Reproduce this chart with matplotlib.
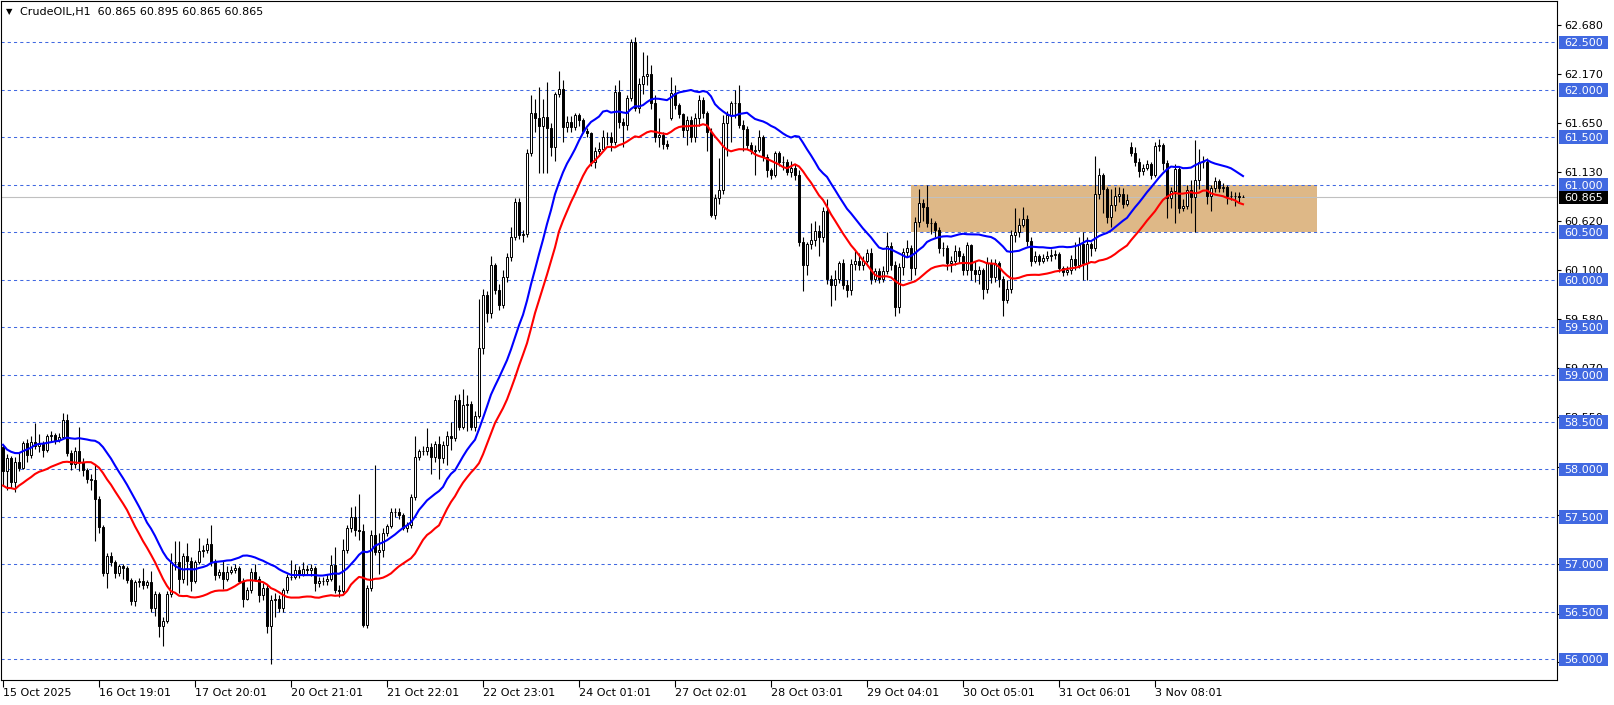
import numpy as np
import pandas as pd
import matplotlib
matplotlib.use("Agg")
import matplotlib.pyplot as plt
from matplotlib.patches import Rectangle
from matplotlib.transforms import blended_transform_factory

# CrudeOIL H1 candles
opens = [
    58.24, 57.98, 58.12, 57.87, 58.08, 58.02, 58.28, 58.15, 58.29, 58.25,
    58.27, 58.20, 58.35, 58.36, 58.31, 58.34, 58.52, 58.17, 58.06, 58.19,
    58.08, 57.99, 57.90, 57.89, 57.69, 57.39, 56.91, 57.09, 57.02, 56.91,
    56.98, 56.96, 56.84, 56.61, 56.81, 56.82, 56.78, 56.81, 56.54, 56.69,
    56.35, 56.40, 56.69, 57.02, 57.02, 56.85, 57.09, 57.04, 56.83, 57.02,
    57.14, 57.15, 57.21, 57.02, 56.89, 56.92, 56.85, 56.92, 56.94, 56.96,
    56.83, 56.64, 56.73, 56.92, 56.85, 56.68, 56.75, 56.35, 56.62, 56.64,
    56.54, 56.73, 56.87, 56.87, 56.94, 56.90, 56.95, 56.94, 56.96, 56.80,
    56.83, 56.82, 56.85, 56.99, 56.73, 56.72, 57.15, 57.38, 57.50, 57.36,
    57.35, 56.36, 56.75, 57.31, 57.13, 57.15, 57.33, 57.40, 57.55, 57.55,
    57.52, 57.38, 57.41, 57.71, 58.13, 58.19, 58.19, 58.24, 58.13, 58.27,
    58.12, 58.26, 58.35, 58.33, 58.73, 58.45, 58.68, 58.69, 58.45, 58.56,
    59.28, 59.84, 59.65, 60.15, 59.89, 59.73, 60.03, 60.24, 60.45, 60.82,
    60.47, 60.48, 61.33, 61.75, 61.70, 61.62, 61.71, 61.60, 61.40, 61.96,
    62.01, 61.61, 61.66, 61.61, 61.73, 61.68, 61.57, 61.54, 61.24, 61.36,
    61.38, 61.50, 61.50, 61.45, 61.98, 61.66, 61.63, 61.91, 62.50, 61.81,
    62.06, 62.14, 62.17, 61.86, 61.50, 61.52, 61.43, 61.70, 61.97, 61.84,
    61.74, 61.58, 61.68, 61.50, 61.70, 61.89, 61.75, 61.56, 60.68, 60.86,
    60.94, 61.65, 61.73, 61.86, 61.86, 61.63, 61.59, 61.42, 61.36, 61.37,
    61.50, 61.29, 61.15, 61.10, 61.33, 61.24, 61.24, 61.13, 61.18, 61.10,
    60.40, 60.15, 60.38, 60.42, 60.51, 60.45, 60.72, 60.01, 59.94, 60.01,
    60.17, 59.94, 59.89, 60.16, 60.20, 60.15, 60.20, 60.28, 60.01, 60.09,
    60.01, 60.09, 60.35, 60.15, 59.71, 60.13, 60.29, 60.33, 60.12, 60.61,
    60.81, 60.77, 60.60, 60.60, 60.52, 60.33, 60.33, 60.17, 60.20, 60.30,
    60.25, 60.10, 60.36, 60.10, 60.06, 60.10, 59.90, 60.17, 60.03, 60.18,
    60.01, 59.78, 59.90, 60.47, 60.50, 60.58, 60.64, 60.41, 60.20, 60.25,
    60.20, 60.23, 60.25, 60.26, 60.27, 60.12, 60.08, 60.10, 60.22, 60.15,
    60.38, 60.17, 60.37, 60.33, 60.90, 61.10, 60.95, 60.66, 60.79, 60.88,
    60.90, 60.80, 61.40, 61.33, 61.24, 61.14, 61.18, 61.22, 61.10, 61.41,
    61.42, 61.23, 60.86, 60.93, 61.17, 60.75, 60.78, 60.94, 60.87, 61.05,
    61.24, 61.24, 60.88, 60.97, 61.04, 60.97, 60.98, 60.88, 60.88, 60.88,
    60.865,
]
closes = [
    57.98, 58.12, 57.87, 58.08, 58.02, 58.28, 58.15, 58.29, 58.25, 58.27,
    58.20, 58.35, 58.36, 58.31, 58.34, 58.52, 58.17, 58.06, 58.19, 58.08,
    57.99, 57.90, 57.89, 57.69, 57.39, 56.91, 57.09, 57.02, 56.91, 56.98,
    56.96, 56.84, 56.61, 56.81, 56.82, 56.78, 56.81, 56.54, 56.69, 56.35,
    56.40, 56.69, 57.02, 57.02, 56.85, 57.09, 57.04, 56.83, 57.02, 57.14,
    57.15, 57.21, 57.02, 56.89, 56.92, 56.85, 56.92, 56.94, 56.96, 56.83,
    56.64, 56.73, 56.92, 56.85, 56.68, 56.75, 56.35, 56.62, 56.64, 56.54,
    56.73, 56.87, 56.87, 56.94, 56.90, 56.95, 56.94, 56.96, 56.80, 56.83,
    56.82, 56.85, 56.99, 56.73, 56.72, 57.15, 57.38, 57.50, 57.36, 57.35,
    56.36, 56.75, 57.31, 57.13, 57.15, 57.33, 57.40, 57.55, 57.55, 57.52,
    57.38, 57.41, 57.71, 58.13, 58.19, 58.19, 58.24, 58.13, 58.27, 58.12,
    58.26, 58.35, 58.33, 58.73, 58.45, 58.68, 58.69, 58.45, 58.56, 59.28,
    59.84, 59.65, 60.15, 59.89, 59.73, 60.03, 60.24, 60.45, 60.82, 60.47,
    60.48, 61.33, 61.75, 61.70, 61.62, 61.71, 61.60, 61.40, 61.96, 62.01,
    61.61, 61.66, 61.61, 61.73, 61.68, 61.57, 61.54, 61.24, 61.36, 61.38,
    61.50, 61.50, 61.45, 61.98, 61.66, 61.63, 61.91, 62.50, 61.81, 62.06,
    62.14, 62.17, 61.86, 61.50, 61.52, 61.43, 61.41, 61.97, 61.84, 61.74,
    61.58, 61.68, 61.50, 61.70, 61.89, 61.75, 61.56, 60.68, 60.86, 60.94,
    61.65, 61.73, 61.86, 61.86, 61.63, 61.59, 61.42, 61.36, 61.37, 61.50,
    61.29, 61.15, 61.10, 61.33, 61.24, 61.24, 61.13, 61.18, 61.10, 60.40,
    60.15, 60.38, 60.42, 60.51, 60.45, 60.72, 60.01, 59.94, 60.01, 60.17,
    59.94, 59.89, 60.16, 60.20, 60.15, 60.20, 60.28, 60.01, 60.09, 60.01,
    60.09, 60.35, 60.15, 59.71, 60.13, 60.29, 60.33, 60.12, 60.61, 60.81,
    60.77, 60.60, 60.60, 60.52, 60.33, 60.33, 60.17, 60.20, 60.30, 60.25,
    60.10, 60.36, 60.10, 60.06, 60.10, 59.90, 60.17, 60.03, 60.18, 60.01,
    59.78, 59.90, 60.47, 60.50, 60.58, 60.64, 60.41, 60.20, 60.25, 60.20,
    60.23, 60.25, 60.26, 60.27, 60.12, 60.08, 60.10, 60.22, 60.15, 60.38,
    60.17, 60.37, 60.33, 60.90, 61.10, 60.95, 60.66, 60.79, 60.88, 60.90,
    60.80, 60.84, 61.33, 61.24, 61.14, 61.18, 61.22, 61.10, 61.41, 61.42,
    61.23, 60.86, 60.93, 61.17, 60.75, 60.78, 60.94, 60.87, 61.05, 61.24,
    61.24, 60.88, 60.97, 61.04, 60.97, 60.98, 60.88, 60.88, 60.88, 60.87,
    60.865,
]
highs = [
    58.26, 58.16, 58.14, 58.13, 58.17, 58.30, 58.32, 58.35, 58.49, 58.37,
    58.30, 58.37, 58.40, 58.38, 58.38, 58.60, 58.58, 58.20, 58.24, 58.45,
    58.12, 58.02, 57.95, 58.05, 57.72, 57.42, 57.12, 57.13, 57.05, 57.00,
    57.00, 56.98, 56.86, 56.84, 56.86, 56.96, 56.84, 56.93, 56.72, 56.71,
    56.45, 56.72, 57.12, 57.25, 57.25, 57.12, 57.22, 57.08, 57.05, 57.28,
    57.20, 57.28, 57.41, 57.06, 56.95, 57.04, 56.98, 56.98, 57.00, 56.98,
    56.86, 56.76, 56.96, 57.00, 56.88, 56.80, 56.78, 56.68, 56.70, 56.68,
    56.75, 56.90, 57.05, 57.00, 56.98, 57.02, 56.99, 57.00, 56.98, 56.87,
    56.87, 56.90, 57.10, 57.18, 56.78, 57.27, 57.42, 57.60, 57.62, 57.74,
    57.43, 56.78, 57.36, 58.05, 57.33, 57.38, 57.43, 57.59, 57.59, 57.59,
    57.54, 57.45, 57.74, 58.35, 58.22, 58.25, 58.44, 58.28, 58.30, 58.35,
    58.30, 58.40, 58.50, 58.78, 58.80, 58.85, 58.78, 58.72, 58.62, 59.80,
    59.90, 59.88, 60.25, 60.18, 59.95, 60.10, 60.28, 60.55, 60.86, 60.86,
    60.52, 61.38, 61.95, 61.90, 62.03, 61.90, 62.08, 61.65, 61.98, 62.20,
    62.10, 61.72, 61.72, 61.76, 61.75, 61.70, 61.60, 61.56, 61.40, 61.45,
    61.58, 61.56, 61.55, 62.05, 62.10, 61.70, 61.95, 62.53, 62.56, 62.12,
    62.40, 62.37, 62.26, 61.95, 61.70, 61.55, 61.47, 62.13, 62.05, 61.86,
    61.76, 61.72, 61.72, 61.75, 61.95, 61.92, 61.78, 61.60, 60.90, 61.28,
    61.73, 61.78, 61.88, 62.00, 62.05, 61.68, 61.62, 61.45, 61.42, 61.58,
    61.52, 61.32, 61.18, 61.36, 61.36, 61.30, 61.27, 61.25, 61.22, 61.15,
    60.45, 60.40, 60.60, 60.62, 60.58, 60.76, 60.85, 60.05, 60.10, 60.20,
    60.22, 60.00, 60.22, 60.30, 60.28, 60.25, 60.32, 60.33, 60.12, 60.12,
    60.14, 60.50, 60.40, 60.20, 60.18, 60.33, 60.42, 60.36, 60.66, 60.95,
    60.85, 61.00, 60.65, 60.62, 60.55, 60.40, 60.36, 60.25, 60.36, 60.34,
    60.28, 60.40, 60.38, 60.20, 60.14, 60.12, 60.24, 60.22, 60.22, 60.20,
    60.04, 60.00, 60.52, 60.75, 60.65, 60.76, 60.68, 60.45, 60.30, 60.27,
    60.27, 60.30, 60.32, 60.31, 60.29, 60.14, 60.14, 60.26, 60.40, 60.45,
    60.50, 60.45, 60.40, 61.30, 61.18, 61.12, 60.98, 60.95, 60.98, 60.98,
    60.96, 60.90, 61.45, 61.40, 61.28, 61.22, 61.26, 61.24, 61.45, 61.48,
    61.44, 61.26, 60.98, 61.22, 61.20, 60.85, 61.00, 61.05, 61.47, 61.38,
    61.30, 61.28, 61.00, 61.08, 61.06, 61.02, 61.00, 60.93, 60.92, 60.92,
    60.895,
]
lows = [
    57.83, 57.78, 57.80, 57.76, 57.98, 58.00, 58.08, 58.12, 58.22, 58.18,
    58.13, 58.18, 58.30, 58.27, 58.29, 58.32, 58.14, 57.99, 58.02, 57.98,
    57.93, 57.86, 57.78, 57.25, 57.33, 56.88, 56.75, 56.98, 56.86, 56.88,
    56.85, 56.80, 56.57, 56.56, 56.76, 56.74, 56.75, 56.50, 56.46, 56.24,
    56.14, 56.38, 56.66, 56.94, 56.70, 56.80, 56.78, 56.72, 56.80, 57.00,
    57.08, 57.12, 56.98, 56.84, 56.86, 56.74, 56.82, 56.90, 56.91, 56.80,
    56.55, 56.62, 56.70, 56.82, 56.60, 56.62, 56.28, 55.95, 56.45, 56.50,
    56.50, 56.70, 56.84, 56.85, 56.86, 56.88, 56.90, 56.88, 56.72, 56.76,
    56.78, 56.78, 56.83, 56.70, 56.66, 56.70, 57.12, 57.34, 57.30, 57.26,
    56.34, 56.33, 56.72, 57.10, 56.90, 57.08, 57.30, 57.38, 57.50, 57.48,
    57.36, 57.34, 57.38, 57.68, 58.10, 58.15, 58.15, 57.95, 58.08, 57.90,
    58.07, 58.05, 58.20, 58.30, 58.42, 58.43, 58.40, 58.42, 58.40, 58.54,
    59.22, 59.55, 59.60, 59.85, 59.68, 59.70, 59.98, 60.20, 60.42, 60.43,
    60.40, 60.45, 61.30, 61.55, 61.12, 61.12, 61.12, 61.30, 61.25, 61.92,
    61.45, 61.55, 61.55, 61.58, 61.62, 61.54, 61.50, 61.20, 61.18, 61.30,
    61.35, 61.42, 61.36, 61.42, 61.60, 61.40, 61.58, 61.88, 61.78, 61.76,
    61.96, 62.05, 61.80, 61.45, 61.40, 61.38, 61.38, 61.68, 61.80, 61.70,
    61.50, 61.42, 61.45, 61.45, 61.62, 61.70, 61.35, 60.66, 60.64, 60.80,
    60.90, 61.30, 61.45, 61.70, 61.60, 61.35, 61.38, 61.32, 61.10, 61.34,
    61.25, 61.08, 61.06, 61.08, 61.20, 61.15, 61.10, 61.08, 61.05, 60.35,
    59.88, 60.05, 60.32, 60.35, 60.25, 60.40, 59.95, 59.72, 59.78, 59.96,
    59.90, 59.82, 59.84, 60.10, 60.10, 60.10, 60.18, 59.95, 59.98, 59.96,
    59.97, 60.06, 60.10, 59.62, 59.65, 60.05, 60.24, 60.00, 60.05, 60.55,
    60.62, 60.55, 60.48, 60.45, 60.28, 60.25, 60.10, 60.08, 60.15, 60.18,
    60.05, 60.05, 60.00, 59.98, 59.95, 59.80, 59.86, 59.96, 59.98, 59.92,
    59.62, 59.75, 59.86, 60.40, 60.45, 60.55, 60.35, 60.14, 60.17, 60.15,
    60.18, 60.20, 60.20, 60.22, 60.08, 60.04, 60.05, 60.06, 60.10, 60.12,
    60.00, 60.00, 60.25, 60.30, 60.85, 60.70, 60.60, 60.55, 60.72, 60.82,
    60.75, 60.78, 61.30, 61.20, 61.08, 61.10, 61.15, 61.06, 61.08, 61.36,
    61.15, 60.65, 60.75, 60.60, 60.70, 60.72, 60.74, 60.70, 60.50, 60.95,
    61.18, 60.80, 60.72, 60.92, 60.92, 60.92, 60.80, 60.84, 60.78, 60.82,
    60.865,
]

date_ticks = [0, 24, 48, 72, 96, 120, 144, 168, 192, 216, 240, 264, 288]
date_labels = ["15 Oct 2025", "16 Oct 19:01", "17 Oct 20:01", "20 Oct 21:01",
               "21 Oct 22:01", "22 Oct 23:01", "24 Oct 01:01", "27 Oct 02:01",
               "28 Oct 03:01", "29 Oct 04:01", "30 Oct 05:01", "31 Oct 06:01",
               "3 Nov 08:01"]
price_ticks = [62.68, 62.17, 61.65, 61.13, 60.62, 60.10, 59.58, 59.07,
               58.55, 58.03, 57.52, 57.00, 56.48, 55.97]
# the last four scale labels sit fully behind the level boxes
price_labels = ["62.680", "62.170", "61.650", "61.130", "60.620", "60.100",
                "59.580", "59.070", "58.550", "58.030", "", "", "", ""]
levels = [56.0, 56.5, 57.0, 57.5, 58.0, 58.5, 59.0, 59.5, 60.0, 60.5,
          61.0, 61.5, 62.0, 62.5]
last_price = 60.865
zone = (227, 328.5, 60.5, 61.0)   # bar from, bar to, price low, price high

o = np.array(opens)
c = np.array(closes)
h = np.array(highs)
l = np.array(lows)
x = np.arange(len(c))

# channel: 20-bar SMA of highs and lows
ma_high = pd.Series(h).rolling(20, min_periods=1).mean()
ma_low = pd.Series(l).rolling(20, min_periods=1).mean()

W, H = 1614, 705
fig = plt.figure(figsize=(W / 100, H / 100), dpi=100)
ax = fig.add_axes([1 / W, 25 / H, 1556 / W, 679 / H])
ax.set_xlim(-0.5, 388.5)
ax.set_ylim(55.782, 62.935)

blue = "#4169E1"
for lv in levels:
    ax.axhline(lv, color=blue, lw=0.75, ls=(0, (3, 3)), zorder=1)

ax.add_patch(Rectangle((zone[0], zone[2]), zone[1] - zone[0], zone[3] - zone[2],
                       facecolor="#DEB887", edgecolor="none", zorder=0.5))
ax.axhline(last_price, color="#C0C0C0", lw=0.8, zorder=1.5)

# candles
ax.vlines(x, l, h, color="black", lw=0.8, zorder=3)
bull = c >= o
body_bottom = np.minimum(o, c)
body_h = np.abs(c - o)
ax.bar(x[bull], body_h[bull], bottom=body_bottom[bull], width=0.55,
       color="white", edgecolor="black", lw=0.7, zorder=3.5)
ax.bar(x[~bull], body_h[~bull], bottom=body_bottom[~bull], width=0.55,
       color="black", edgecolor="black", lw=0.7, zorder=3.5)

ax.plot(x, ma_high, color="#0000FF", lw=1.5, zorder=4)
ax.plot(x, ma_low, color="#FF0000", lw=1.5, zorder=4)

for s in ax.spines.values():
    s.set_color("black")
    s.set_linewidth(0.8)

ax.set_xticks(date_ticks)
ax.set_xticklabels(date_labels, ha="left")
ax.tick_params(axis="x", direction="out", length=5, width=0.8, pad=1,
               labelsize=8)
ax.yaxis.tick_right()
ax.set_yticks(price_ticks)
ax.set_yticklabels(price_labels)
ax.tick_params(axis="y", direction="out", length=3, width=0.8, pad=2,
               labelsize=8)

# price boxes on the right scale
trans = blended_transform_factory(fig.transFigure, ax.transData)
box_h = 13.5 / 94.92
for lv in levels:
    ax.add_patch(Rectangle((1559 / W, lv - box_h / 2), 49 / W, box_h,
                           transform=trans, facecolor=blue, edgecolor="none",
                           clip_on=False, zorder=10))
    ax.text(1583.5 / W, lv, f"{lv:.3f}", transform=trans, color="white",
            fontsize=8, ha="center", va="center_baseline", zorder=11,
            clip_on=False)
ax.add_patch(Rectangle((1559 / W, last_price - box_h / 2), 49 / W, box_h,
                       transform=trans, facecolor="black", edgecolor="none",
                       clip_on=False, zorder=10))
ax.text(1583.5 / W, last_price, f"{last_price:.3f}", transform=trans,
        color="white", fontsize=8, ha="center", va="center_baseline",
        zorder=11, clip_on=False)

fig.text(6 / W, 1 - 12 / H, "▼", fontsize=6, va="center")
fig.text(20 / W, 1 - 12 / H, "CrudeOIL,H1  60.865 60.895 60.865 60.865",
         fontsize=8, va="center")

fig.savefig("out.png", dpi=100)
